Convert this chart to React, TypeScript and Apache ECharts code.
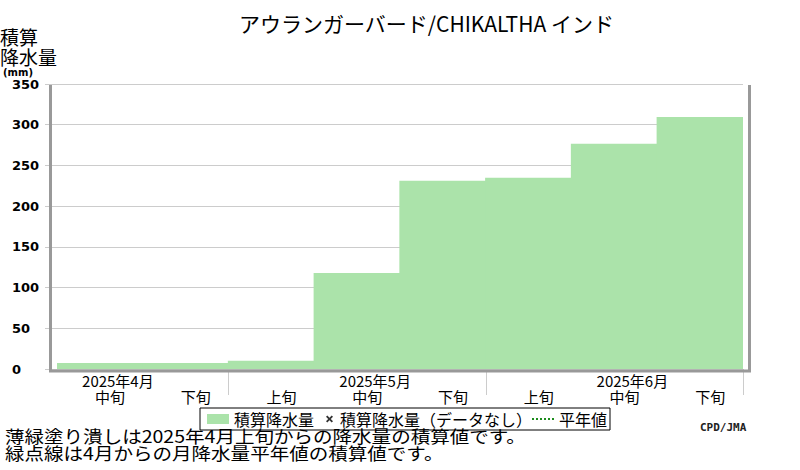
import React, { useEffect, useRef } from 'react';
import * as echarts from 'echarts';

// ---- data ----
const decades = ['中旬', '下旬', '上旬', '中旬', '下旬', '上旬', '中旬', '下旬'];
const months = ['2025年4月', '', '', '2025年5月', '', '', '2025年6月', ''];
const accumulated = [7.4, 7.4, 10.2, 118, 231.2, 234.9, 276.7, 309.5];
const accumulatedNoData: number[] = [];
const normalAccumulated: number[] = [];
const yMin = 0;
const yMax = 350;
const yInterval = 50;

const titleText = 'アウランガーバード/CHIKALTHA インド';
const seriesNames = ['積算降水量', '積算降水量（データなし）', '平年値'];
const footer1 = '薄緑塗り潰しは2025年4月上旬からの降水量の積算値です。';
const footer2 = '緑点線は4月からの月降水量平年値の積算値です。';

const JP = "'Noto Sans CJK JP', sans-serif";
const barColor = '#abe3aa';
const normalColor = '#1c8c1c';
// bold "x" marker drawn inside a 22x10 box (degenerate moves fix the box)
const xIcon =
  'path://M0,0M22,10M13,2.8L14.3,1.5L16.5,3.7L18.7,1.5L20,2.8L17.8,5L20,7.2L18.7,8.5L16.5,6.3L14.3,8.5L13,7.2L15.2,5Z';

export default function App() {
  const ref = useRef<HTMLDivElement>(null);
  useEffect(() => {
    if (!ref.current) return;
    const chart = echarts.init(ref.current, undefined, { renderer: 'svg' });
    const option: any = {
      animation: false,
      backgroundColor: '#fff',
      title: {
        text: titleText,
        left: 239,
        top: 12,
        padding: 0,
        textStyle: { fontFamily: JP, fontSize: 21, fontWeight: 'normal', color: '#000' },
      },
      grid: { left: 57, right: 57, top: 84, bottom: 101, containLabel: false },
      legend: {
        left: 200,
        top: 408,
        orient: 'horizontal',
        borderColor: '#000',
        borderWidth: 1,
        borderRadius: 0,
        padding: [3, 3, 3, 7],
        itemGap: -1,
        itemWidth: 22,
        itemHeight: 10,
        selectedMode: false,
        textStyle: { fontFamily: JP, fontSize: 16, color: '#000' },
        data: [
          { name: seriesNames[0], icon: 'rect' },
          { name: seriesNames[1], icon: xIcon },
          { name: seriesNames[2], lineStyle: { type: 'dotted', color: normalColor, width: 2 } },
        ],
      },
      xAxis: [
        {
          type: 'category',
          data: decades,
          position: 'bottom',
          axisLine: { show: false },
          axisTick: {
            show: true,
            length: 26,
            interval: (i: number) => decades[i] === '上旬',
            lineStyle: { color: '#cccccc', width: 1 },
          },
          axisLabel: {
            interval: 0,
            margin: 20,
            padding: [0, 0, 0, 20],
            fontFamily: JP,
            fontSize: 15,
            lineHeight: 15,
            color: '#000',
          },
          splitLine: { show: false },
        },
        {
          type: 'category',
          data: months,
          position: 'bottom',
          axisLine: { show: false },
          axisTick: { show: false },
          axisLabel: {
            interval: 0,
            margin: 5,
            padding: [0, 0, 0, 36],
            fontFamily: JP,
            fontSize: 15,
            lineHeight: 13,
            color: '#000',
          },
          splitLine: { show: false },
        },
      ],
      yAxis: {
        type: 'value',
        min: yMin,
        max: yMax,
        interval: yInterval,
        axisLine: { show: false },
        axisTick: { show: true, length: 12, lineStyle: { color: '#cccccc', width: 1 } },
        axisLabel: {
          align: 'left',
          margin: 45,
          fontFamily: "'DejaVu Sans', sans-serif",
          fontWeight: 'bold',
          fontSize: 13,
          color: '#000',
        },
        splitLine: { show: true, lineStyle: { color: '#cccccc', width: 1 } },
      },
      series: [
        {
          name: seriesNames[0],
          type: 'bar',
          xAxisIndex: 0,
          data: accumulated,
          barWidth: '101.5%',
          barGap: '-100%',
          itemStyle: { color: barColor },
        },
        {
          name: seriesNames[1],
          type: 'scatter',
          xAxisIndex: 0,
          data: accumulatedNoData,
          symbol: xIcon,
          itemStyle: { color: '#000' },
        },
        {
          name: seriesNames[2],
          type: 'line',
          xAxisIndex: 0,
          data: normalAccumulated,
          symbol: 'none',
          lineStyle: { type: 'dotted', color: normalColor, width: 2 },
          itemStyle: { color: 'rgba(0,0,0,0)', borderWidth: 0, borderColor: 'rgba(0,0,0,0)' },
        },
      ],
      graphic: [
        {
          type: 'polyline',
          z: 10,
          shape: { points: [[50.5, 85], [50.5, 371], [749.5, 371], [749.5, 85]] },
          style: { stroke: '#999999', lineWidth: 3, fill: null },
        },
        {
          type: 'text',
          x: 0,
          y: 27,
          style: { text: '積算', fontFamily: JP, fontSize: 19, lineHeight: 19, fill: '#000', verticalAlign: 'top' },
        },
        {
          type: 'text',
          x: 0,
          y: 47,
          style: { text: '降水量', fontFamily: JP, fontSize: 19, lineHeight: 19, fill: '#000', verticalAlign: 'top' },
        },
        {
          type: 'text',
          x: 3,
          y: 67,
          style: {
            text: '(mm)',
            fontFamily: "'DejaVu Sans', sans-serif",
            fontWeight: 'bold',
            fontSize: 10,
            lineHeight: 10,
            fill: '#000',
            verticalAlign: 'top',
          },
        },
        {
          type: 'text',
          x: 700,
          y: 422,
          style: {
            text: 'CPD/JMA',
            fontFamily: "'DejaVu Sans Mono', monospace",
            fontWeight: 'bold',
            fontSize: 11,
            fill: '#222',
            verticalAlign: 'top',
          },
        },
        {
          type: 'text',
          x: 5,
          y: 427,
          scaleX: 1.15,
          style: { text: footer1, fontFamily: JP, fontSize: 17, lineHeight: 17, fill: '#000', verticalAlign: 'top' },
        },
        {
          type: 'text',
          x: 5,
          y: 444,
          scaleX: 1.15,
          style: { text: footer2, fontFamily: JP, fontSize: 17, lineHeight: 17, fill: '#000', verticalAlign: 'top' },
        },
      ],
    };
    chart.setOption(option);
    return () => chart.dispose();
  }, []);
  return (
    <div
      ref={ref}
      style={{ position: 'absolute', left: 0, top: 0, width: 800, height: 470 }}
    />
  );
}
